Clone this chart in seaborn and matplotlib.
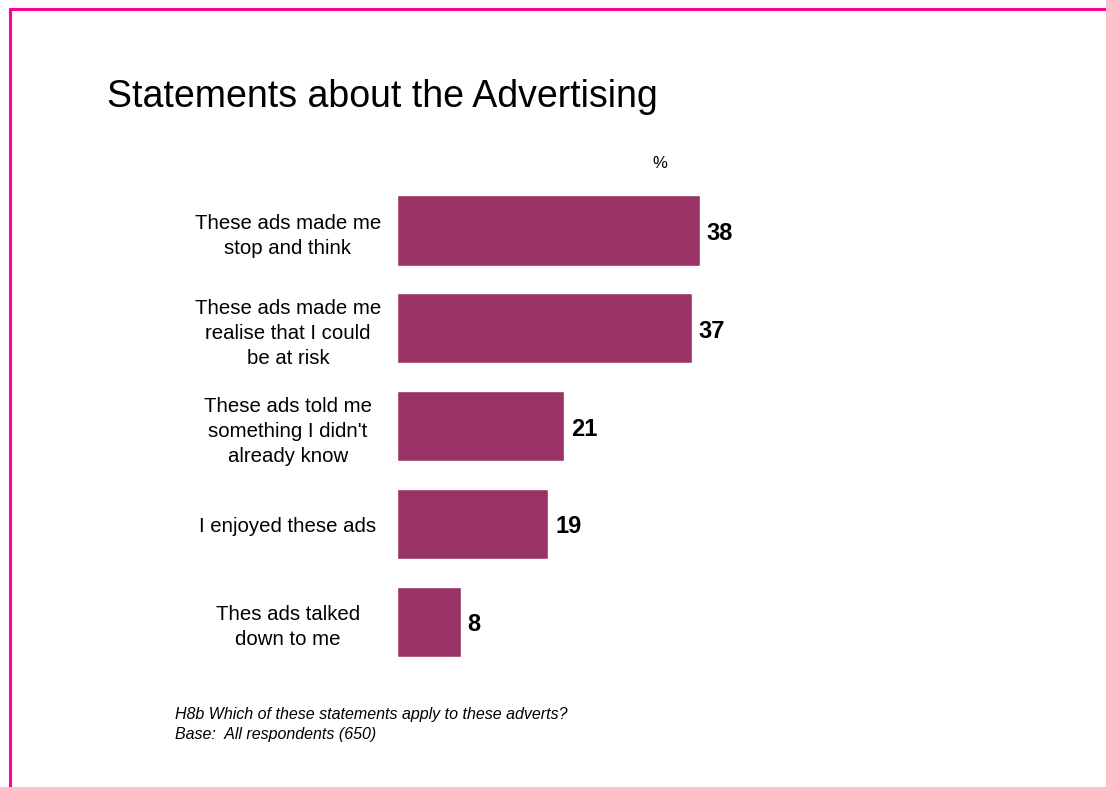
import matplotlib
matplotlib.use("Agg")
import matplotlib.pyplot as plt
from matplotlib.lines import Line2D
import seaborn as sns
import pandas as pd

# Chart data
statements = [
    "These ads made me\nstop and think",
    "These ads made me\nrealise that I could\nbe at risk",
    "These ads told me\nsomething I didn't\nalready know",
    "I enjoyed these ads",
    "Thes ads talked\ndown to me",
]
percentages = [38, 37, 21, 19, 8]

title = "Statements about the Advertising"
unit_label = "%"
footnote = "H8b Which of these statements apply to these adverts?\nBase:  All respondents (650)"

sns.set_theme(style="white")
plt.rcParams["font.family"] = ["Liberation Sans", "DejaVu Sans"]

W, H = 1106, 787
fig = plt.figure(figsize=(W / 100, H / 100), dpi=100)
fig.patch.set_facecolor("white")

# Axes area in pixel terms
x0, x1 = 397, 795.5
y_top, y_bot = 181.6, 670.9
ax = fig.add_axes([x0 / W, 1 - y_bot / H, (x1 - x0) / W, (y_bot - y_top) / H])

df = pd.DataFrame({"statement": statements, "pct": percentages})
sns.barplot(data=df, x="pct", y="statement", orient="h", color="#993366",
            saturation=1, width=0.716, ax=ax)

ax.set_xlim(0, 50)
ax.set_ylim(4.5, -0.5)
ax.set_xlabel("")
ax.set_ylabel("")
ax.set_xticks([])
for s in ax.spines.values():
    s.set_visible(False)
ax.set_facecolor("none")

ax.tick_params(axis="y", length=0, pad=78.5)
for t in ax.get_yticklabels():
    t.set_horizontalalignment("center")
    t.set_fontsize(14.7)
    t.set_linespacing(1.4)
    t.set_color("black")

for cont in ax.containers:
    anns = ax.bar_label(cont, labels=[f"{v:g}" for v in percentages], padding=5,
                        fontsize=17, fontweight="bold", color="black")
    for a in anns:
        a.xyann = (5, -2)

fig.text(107 / W, 1 - 107 / H, title, fontsize=27, ha="left", va="baseline", color="black")
fig.text(660 / W, 1 - 163 / H, unit_label, fontsize=12, ha="center", va="center", color="black")
fig.text(175 / W, 1 - 724.5 / H, footnote, fontsize=11.5, style="italic", ha="left",
         va="center", color="black", linespacing=1.36)

# Slide frame
pink = "#FF0099"
fig.add_artist(Line2D([9 / W, 1.0], [1 - 9 / H, 1 - 9 / H], transform=fig.transFigure,
                      color=pink, lw=2.2, solid_capstyle="butt"))
fig.add_artist(Line2D([10 / W, 10 / W], [1 - 8 / H, 0.0], transform=fig.transFigure,
                      color=pink, lw=2.2, solid_capstyle="butt"))

fig.savefig("out.png", dpi=100)
